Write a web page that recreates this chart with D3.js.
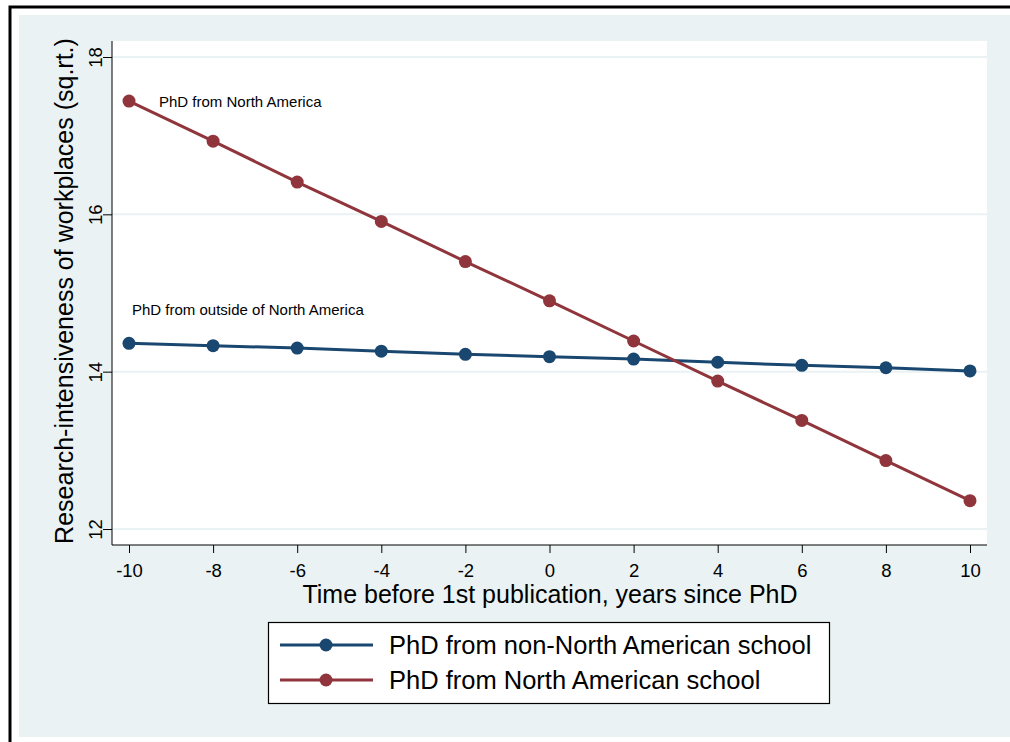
<!DOCTYPE html>
<html>
<head>
<meta charset="utf-8">
<script src="https://cdn.jsdelivr.net/npm/d3@7"></script>
<style>
  body { margin: 0; background: #fff; }
  svg { display: block; font-family: "Liberation Sans", Arial, sans-serif; }
</style>
</head>
<body>
<div id="chart"></div>
<script>
'use strict';
// data
const years = [-10, -8, -6, -4, -2, 0, 2, 4, 6, 8, 10];
const nonNorthAmerica = [14.36, 14.33, 14.30, 14.26, 14.22, 14.19, 14.16, 14.12, 14.08, 14.05, 14.01];
const northAmerica = [17.44, 16.93, 16.41, 15.91, 15.40, 14.90, 14.39, 13.88, 13.38, 12.87, 12.36];
const yTicks = [12, 14, 16, 18];
const xTicks = [-10, -8, -6, -4, -2, 0, 2, 4, 6, 8, 10];
const seriesNames = ['PhD from non-North American school', 'PhD from North American school'];
const colors = ['#1a476f', '#90353b'];

const W = 1010, H = 742;
const fmt = d => String(d); // plain hyphen minus, like the original
const svg = d3.select('#chart').append('svg').attr('width', W).attr('height', H);

// outer frame + background
svg.append('rect').attr('x', 10).attr('y', 7).attr('width', W + 20).attr('height', H + 20)
  .attr('fill', '#fff').attr('stroke', '#000').attr('stroke-width', 3);
svg.append('rect').attr('x', 19).attr('y', 15).attr('width', W - 19).attr('height', 722)
  .attr('fill', '#eaf2f3');

const plot = {left: 112, right: 987, top: 41, bottom: 545};
svg.append('rect').attr('x', plot.left).attr('y', plot.top)
  .attr('width', plot.right - plot.left).attr('height', plot.bottom - plot.top).attr('fill', '#fff');

const x = d3.scaleLinear().domain([-10, 10]).range([129, 970]);
const y = d3.scaleLinear().domain([12, 18]).range([529, 57]);

// gridlines
svg.append('g').selectAll('line').data(yTicks).join('line')
  .attr('x1', plot.left).attr('x2', plot.right)
  .attr('y1', d => y(d)).attr('y2', d => y(d))
  .attr('stroke', '#eaf2f3').attr('stroke-width', 2);

// y axis
const yAxis = svg.append('g').attr('transform', `translate(${plot.left},0)`)
  .call(d3.axisLeft(y).tickValues(yTicks).tickSize(9).tickFormat(fmt));
yAxis.select('.domain').attr('d', `M0,${plot.top}V${plot.bottom}`).attr('stroke', '#000');
yAxis.selectAll('.tick line').attr('stroke', '#000');
yAxis.selectAll('.tick text')
  .attr('transform', 'rotate(-90)').attr('x', 0).attr('y', -10).attr('dy', 0)
  .attr('text-anchor', 'middle').attr('font-size', 18.5).attr('fill', '#000');

// x axis
const xAxis = svg.append('g').attr('transform', `translate(0,${plot.bottom})`)
  .call(d3.axisBottom(x).tickValues(xTicks).tickSize(8).tickFormat(fmt));
xAxis.select('.domain').attr('d', `M${plot.left},0H${plot.right}`).attr('stroke', '#000');
xAxis.selectAll('.tick line').attr('stroke', '#000');
xAxis.selectAll('.tick text').attr('font-size', 18.5).attr('fill', '#000')
  .attr('y', 32).attr('dy', 0);

// axis titles
svg.append('text').attr('x', 550).attr('y', 603).attr('text-anchor', 'middle')
  .attr('font-size', 25).text('Time before 1st publication, years since PhD');
svg.append('text').attr('transform', 'translate(73,291) rotate(-90)').attr('text-anchor', 'middle')
  .attr('font-size', 25).text('Research-intensiveness of workplaces (sq.rt.)');

// series
const seriesData = [nonNorthAmerica, northAmerica];
const line = d3.line().x((d, i) => x(years[i])).y(d => y(d));
seriesData.forEach((vals, k) => {
  svg.append('path').datum(vals).attr('d', line)
    .attr('fill', 'none').attr('stroke', colors[k]).attr('stroke-width', 3);
  svg.append('g').selectAll('circle').data(vals).join('circle')
    .attr('cx', (d, i) => x(years[i])).attr('cy', d => y(d)).attr('r', 6.5)
    .attr('fill', colors[k]);
});

// annotations
svg.append('text').attr('x', 159).attr('y', 107).attr('font-size', 15).text('PhD from North America');
svg.append('text').attr('x', 132).attr('y', 315).attr('font-size', 15).text('PhD from outside of North America');

// legend
const lg = svg.append('g');
lg.append('rect').attr('x', 268.5).attr('y', 622.5).attr('width', 561).attr('height', 81)
  .attr('fill', '#fff').attr('stroke', '#000').attr('stroke-width', 1.2);
seriesNames.forEach((name, k) => {
  const yy = 645 + k * 35;
  lg.append('line').attr('x1', 280).attr('x2', 373).attr('y1', yy).attr('y2', yy)
    .attr('stroke', colors[k]).attr('stroke-width', 3);
  lg.append('circle').attr('cx', 326).attr('cy', yy).attr('r', 6.5).attr('fill', colors[k]);
  lg.append('text').attr('x', 389).attr('y', yy + 9).attr('font-size', 25.5).text(name);
});
</script>
</body>
</html>
